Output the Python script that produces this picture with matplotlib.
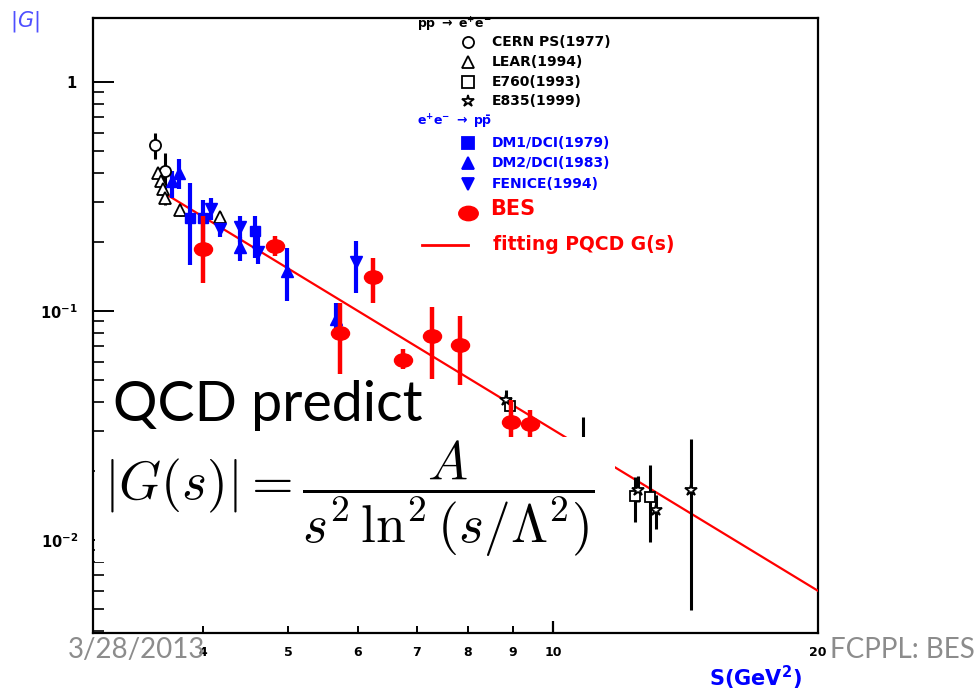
import numpy as np
import matplotlib
matplotlib.use("Agg")
import matplotlib.pyplot as plt
from matplotlib.path import Path
from matplotlib.patches import Rectangle
from matplotlib.lines import Line2D
from matplotlib.ticker import NullFormatter

plt.rcParams['font.family'] = ['DejaVu Sans']
plt.rcParams['mathtext.fontset'] = 'dejavusans'

# ---------------- data: |G| vs s (GeV^2) ----------------
# p pbar -> e+ e-
cern_s = [3.53, 3.62]
cern_G = [0.53, 0.41]
cern_lo = [0.46, 0.30]
cern_hi = [0.60, 0.49]

lear_s = [3.56, 3.58, 3.60, 3.62, 3.77, 4.18]
lear_G = [0.40, 0.37, 0.34, 0.31, 0.275, 0.256]
lear_lo = [0.38, 0.35, 0.32, 0.29, 0.26, 0.24]
lear_hi = [0.42, 0.39, 0.36, 0.33, 0.29, 0.27]

e760_s = [8.93, 12.4, 12.9]
e760_G = [0.0384, 0.0155, 0.0154]
e760_lo = [0.0350, 0.0120, 0.0098]
e760_hi = [0.0420, 0.0189, 0.0213]

e835_s = [8.85, 10.8, 12.5, 13.1, 14.35]
e835_G = [0.041, 0.024, 0.0165, 0.0135, 0.0166]
e835_lo = [0.037, 0.016, 0.0147, 0.0112, 0.00493]
e835_hi = [0.045, 0.0346, 0.0190, 0.0158, 0.0277]

# e+ e- -> p pbar
dm1_s = [3.87, 4.00, 4.58]
dm1_G = [0.254, 0.254, 0.224]
dm1_lo = [0.158, 0.187, 0.170]
dm1_hi = [0.362, 0.304, 0.261]

dm2_s = [3.69, 3.76, 4.41, 4.98, 5.67]
dm2_G = [0.37, 0.40, 0.19, 0.15, 0.092]
dm2_lo = [0.31, 0.34, 0.165, 0.111, 0.080]
dm2_hi = [0.41, 0.46, 0.21, 0.189, 0.108]

fenice_s = [4.09, 4.18, 4.41, 4.62, 5.97]
fenice_G = [0.28, 0.228, 0.232, 0.18, 0.163]
fenice_lo = [0.25, 0.21, 0.20, 0.16, 0.12]
fenice_hi = [0.31, 0.25, 0.261, 0.21, 0.203]

bes_s = [4.00, 4.83, 5.73, 6.24, 6.75, 7.28, 7.84, 8.95, 9.41]
bes_G = [0.187, 0.193, 0.080, 0.141, 0.0609, 0.0775, 0.071, 0.0326, 0.0321]
bes_lo = [0.133, 0.174, 0.0529, 0.108, 0.0558, 0.0505, 0.0475, 0.026, 0.027]
bes_hi = [0.261, 0.213, 0.108, 0.171, 0.068, 0.104, 0.095, 0.041, 0.0368]

# PQCD fit line (end points)
fit_s = [3.60, 20.0]
fit_G = [0.33, 0.0060]

x_minor_ticks = [4, 5, 6, 7, 8, 9, 20]
x_minor_labels = ['4', '5', '6', '7', '8', '9', '20']
x_major_ticks = [10]
x_major_labels = ['10']
y_major_ticks = [1.0, 0.1, 0.01]
y_major_labels = [r'$\mathbf{1}$', r'$\mathbf{10^{-1}}$', r'$\mathbf{10^{-2}}$']

# ---------------- figure ----------------
W, H = 974, 692
fig = plt.figure(figsize=(W / 100, H / 100), dpi=100)


def fx(x):
    return x / W


def fy(y):
    return 1 - y / H


ax = fig.add_axes([fx(93), fy(633), (818 - 93) / W, (633 - 18) / H])
ax.set_xscale('log')
ax.set_yscale('log')
ax.set_xlim(3, 20)
ax.set_ylim(10 ** -2.406, 10 ** 0.279)

for sp in ax.spines.values():
    sp.set_linewidth(1.6)
    sp.set_color('black')

ax.set_xticks(x_major_ticks, labels=x_major_labels)
ax.set_xticks(x_minor_ticks, labels=x_minor_labels, minor=True)
yminor = [m * 10.0 ** e for e in (-3, -2, -1) for m in range(2, 10)]
yminor = [v for v in yminor if 10 ** -2.406 < v < 10 ** 0.279]
ax.set_yticks(y_major_ticks, labels=y_major_labels)
ax.set_yticks(yminor, minor=True)
ax.yaxis.set_minor_formatter(NullFormatter())

ax.tick_params(axis='x', which='major', direction='in', length=9, width=1.6,
               pad=9, labelsize=9, top=False)
ax.tick_params(axis='x', which='minor', direction='in', length=5, width=1.4,
               pad=9, labelsize=9, top=False)
ax.tick_params(axis='y', which='major', direction='in', length=15, width=1.4,
               pad=11, labelsize=10.5, right=False)
ax.tick_params(axis='y', which='minor', direction='in', length=8, width=1.2,
               right=False)
for lab in ax.get_xticklabels(which='both'):
    lab.set_fontweight('bold')


def err(G, lo, hi):
    G = np.asarray(G)
    return [G - np.asarray(lo), np.asarray(hi) - G]


circ = Path.unit_circle()
ellipse = Path(circ.vertices * np.array([1.35, 1.0]), circ.codes)

# fit
ax.plot(fit_s, fit_G, color='red', lw=1.6, zorder=3)

# p pbar -> e+ e- (open black)
open_kw = dict(ls='none', color='black', mfc='white', mec='black', mew=1.3,
               elinewidth=2.2, capsize=0, zorder=4)
ax.errorbar(cern_s, cern_G, yerr=err(cern_G, cern_lo, cern_hi), marker='o', ms=8, **open_kw)
ax.errorbar(lear_s, lear_G, yerr=err(lear_G, lear_lo, lear_hi), marker='^', ms=8, **open_kw)
ax.errorbar(e760_s, e760_G, yerr=err(e760_G, e760_lo, e760_hi), marker='s', ms=7, **open_kw)
ax.errorbar(e835_s, e835_G, yerr=err(e835_G, e835_lo, e835_hi), marker='*', ms=9, **open_kw)

# e+ e- -> p pbar (blue)
blue_kw = dict(ls='none', color='blue', elinewidth=3.0, capsize=0, zorder=4)
ax.errorbar(dm1_s, dm1_G, yerr=err(dm1_G, dm1_lo, dm1_hi), marker='s', ms=7, **blue_kw)
ax.errorbar(dm2_s, dm2_G, yerr=err(dm2_G, dm2_lo, dm2_hi), marker='^', ms=8, **blue_kw)
ax.errorbar(fenice_s, fenice_G, yerr=err(fenice_G, fenice_lo, fenice_hi), marker='v', ms=8, **blue_kw)

# BES
ax.errorbar(bes_s, bes_G, yerr=err(bes_G, bes_lo, bes_hi), ls='none', color='red',
            marker=ellipse, ms=13, elinewidth=3.2, capsize=0, zorder=5)

# ---------------- legend ----------------
lx, tx = 468, 492
fig.text(fx(417), fy(25), r'$\mathbf{p\bar{p}\ \rightarrow\ e^{+}e^{-}}$', fontsize=9,
         va='center', ha='left')
fig.text(fx(417), fy(122), r'$\mathbf{e^{+}e^{-}\ \rightarrow\ p\bar{p}}$', fontsize=9,
         va='center', ha='left', color='blue')
rows = [
    (42, 'o', 'white', 'black', 'CERN PS(1977)', 'black'),
    (62, '^', 'white', 'black', 'LEAR(1994)', 'black'),
    (82, 's', 'white', 'black', 'E760(1993)', 'black'),
    (101, '*', 'white', 'black', 'E835(1999)', 'black'),
    (143, 's', 'blue', 'blue', 'DM1/DCI(1979)', 'blue'),
    (163, '^', 'blue', 'blue', 'DM2/DCI(1983)', 'blue'),
    (184, 'v', 'blue', 'blue', 'FENICE(1994)', 'blue'),
]
for y, m, fc, ec, label, tc in rows:
    fig.add_artist(Line2D([fx(lx)], [fy(y)], marker=m, ms=8 if m != '*' else 9,
                          mfc=fc, mec=ec, mew=1.3, ls='none',
                          transform=fig.transFigure))
    fig.text(fx(tx), fy(y), label, fontsize=10, fontweight='bold', color=tc,
             va='center', ha='left')
fig.add_artist(Line2D([fx(lx)], [fy(213)], marker=ellipse, ms=14, color='red',
                      ls='none', transform=fig.transFigure))
fig.text(fx(490), fy(209), 'BES', fontsize=15, fontweight='bold', color='red',
         va='center', ha='left')
fig.add_artist(Line2D([fx(422), fx(468)], [fy(245), fy(245)], color='red', lw=2,
                      transform=fig.transFigure))
fig.text(fx(493), fy(244), 'fitting PQCD G(s)', fontsize=13.5, fontweight='bold',
         color='red', va='center', ha='left')

# axis titles
fig.text(fx(10), fy(22), r'$|G|$', fontsize=15, color='#4f4fff', va='center', ha='left')
fig.text(fx(755), fy(678), r'S(GeV$^{\mathbf{2}}$)', fontsize=15, fontweight='bold',
         color='blue', va='center', ha='center')

# ---------------- annotations ----------------
fig.text(fx(113), fy(421), 'QCD predict', fontsize=40, family=['Lato', 'DejaVu Sans'],
         color='black', va='baseline', ha='left', zorder=7)

fig.add_artist(Rectangle((fx(94.5), fy(562)), (615 - 94.5) / W, (562 - 437) / H,
                         transform=fig.transFigure, facecolor='white',
                         edgecolor='none', zorder=5))
fig.text(fx(104), fy(499), r'$|G(s)| = \dfrac{A}{s^2\,\ln^2(s/\Lambda^2)}$',
         fontsize=38.5, math_fontfamily='cm', va='center', ha='left', zorder=6)

fig.text(fx(68), fy(658), '3/28/2013', fontsize=20, family=['Lato', 'DejaVu Sans'],
         color='#8c8c8c', va='baseline', ha='left', zorder=7)
fig.text(fx(830), fy(658), 'FCPPL: BES', fontsize=20, family=['Lato', 'DejaVu Sans'],
         color='#8c8c8c', va='baseline', ha='left', zorder=7)

fig.savefig('out.png', dpi=100)
